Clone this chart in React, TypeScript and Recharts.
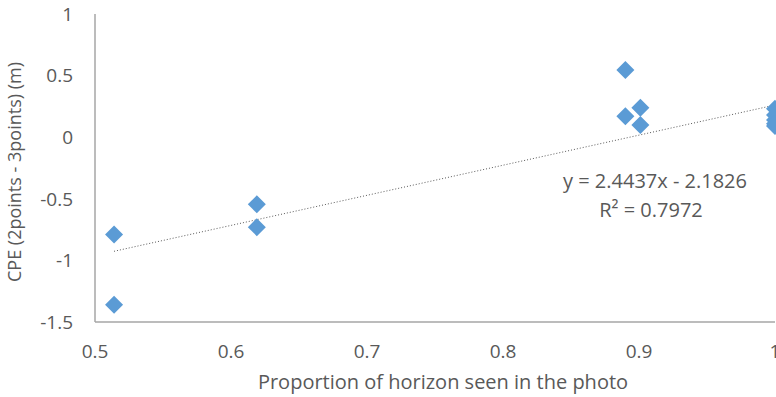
import { ScatterChart, Scatter, XAxis, YAxis } from "recharts";

const horizon = [0.514, 0.514, 0.619, 0.619, 0.89, 0.89, 0.901, 0.901, 1, 1, 1, 1, 1];
const cpe = [-0.79, -1.36, -0.545, -0.73, 0.545, 0.17, 0.24, 0.1, 0.23, 0.18, 0.14, 0.11, 0.09];

const trendX = [0.514, 1];
const trendY = [-0.926, 0.261];

const xTicks = [0.5, 0.6, 0.7, 0.8, 0.9, 1];
const yTicks = [-1.5, -1, -0.5, 0, 0.5, 1];

const points = horizon.map((x, i) => ({ x, y: cpe[i] }));
const trend = trendX.map((x, i) => ({ x, y: trendY[i] }));

const FONT = "'Open Sans', sans-serif";
const TEXT = "#595959";
const AXIS = "#a6a6a6";
const BLUE = "#5b9bd5";

const Diamond = (props: any) => {
  const { cx, cy } = props;
  const r = 9;
  return (
    <polygon
      points={`${cx},${cy - r} ${cx + r},${cy} ${cx},${cy + r} ${cx - r},${cy}`}
      fill={BLUE}
    />
  );
};

const fmt = (v: number) => String(v);

export default function App() {
  return (
    <div style={{ position: "fixed", left: 0, top: 0, width: 776, height: 397, overflow: "hidden", background: "#fff" }}>
      <ScatterChart width={800} height={397} margin={{ top: 14, right: 25, bottom: 0, left: 0 }}>
        <XAxis
          type="number"
          dataKey="x"
          domain={[0.5, 1]}
          ticks={xTicks}
          tickFormatter={fmt}
          tickLine={false}
          tickSize={0}
          tickMargin={23}
          height={75}
          axisLine={{ stroke: AXIS, strokeWidth: 1.5 }}
          tick={{ fill: TEXT, fontSize: 19, fontFamily: FONT }}
        />
        <YAxis
          type="number"
          dataKey="y"
          domain={[-1.5, 1]}
          ticks={yTicks}
          tickFormatter={fmt}
          tickLine={false}
          tickSize={0}
          tickMargin={22}
          width={95}
          axisLine={{ stroke: AXIS, strokeWidth: 1.5 }}
          tick={{ fill: TEXT, fontSize: 19, fontFamily: FONT }}
        />
        <Scatter
          data={trend}
          line={{ stroke: "#595959", strokeWidth: 1, strokeDasharray: "1 2" }}
          shape={() => null}
          isAnimationActive={false}
        />
        <Scatter data={points} shape={<Diamond />} isAnimationActive={false} />
      </ScatterChart>
      <div style={{ position: "absolute", left: 243, top: 369, width: 400, textAlign: "center", fontFamily: FONT, fontSize: 20, color: TEXT, lineHeight: "26px", whiteSpace: "nowrap" }}>
        Proportion of horizon seen in the photo
      </div>
      <div style={{ position: "absolute", left: 14, top: 172, width: 0, height: 0 }}>
        <div style={{ position: "absolute", left: -200, top: -13, width: 400, textAlign: "center", transform: "rotate(-90deg)", fontFamily: FONT, fontSize: 18, color: TEXT, lineHeight: "26px", whiteSpace: "nowrap" }}>
          CPE (2points - 3points) (m)
        </div>
      </div>
      <div style={{ position: "absolute", left: 455, top: 166, width: 400, textAlign: "center", fontFamily: FONT, fontSize: 20, color: TEXT, lineHeight: "29px" }}>
        <div>y = 2.4437x - 2.1826</div>
        <div style={{ marginLeft: -8 }}>R² = 0.7972</div>
      </div>
    </div>
  );
}
